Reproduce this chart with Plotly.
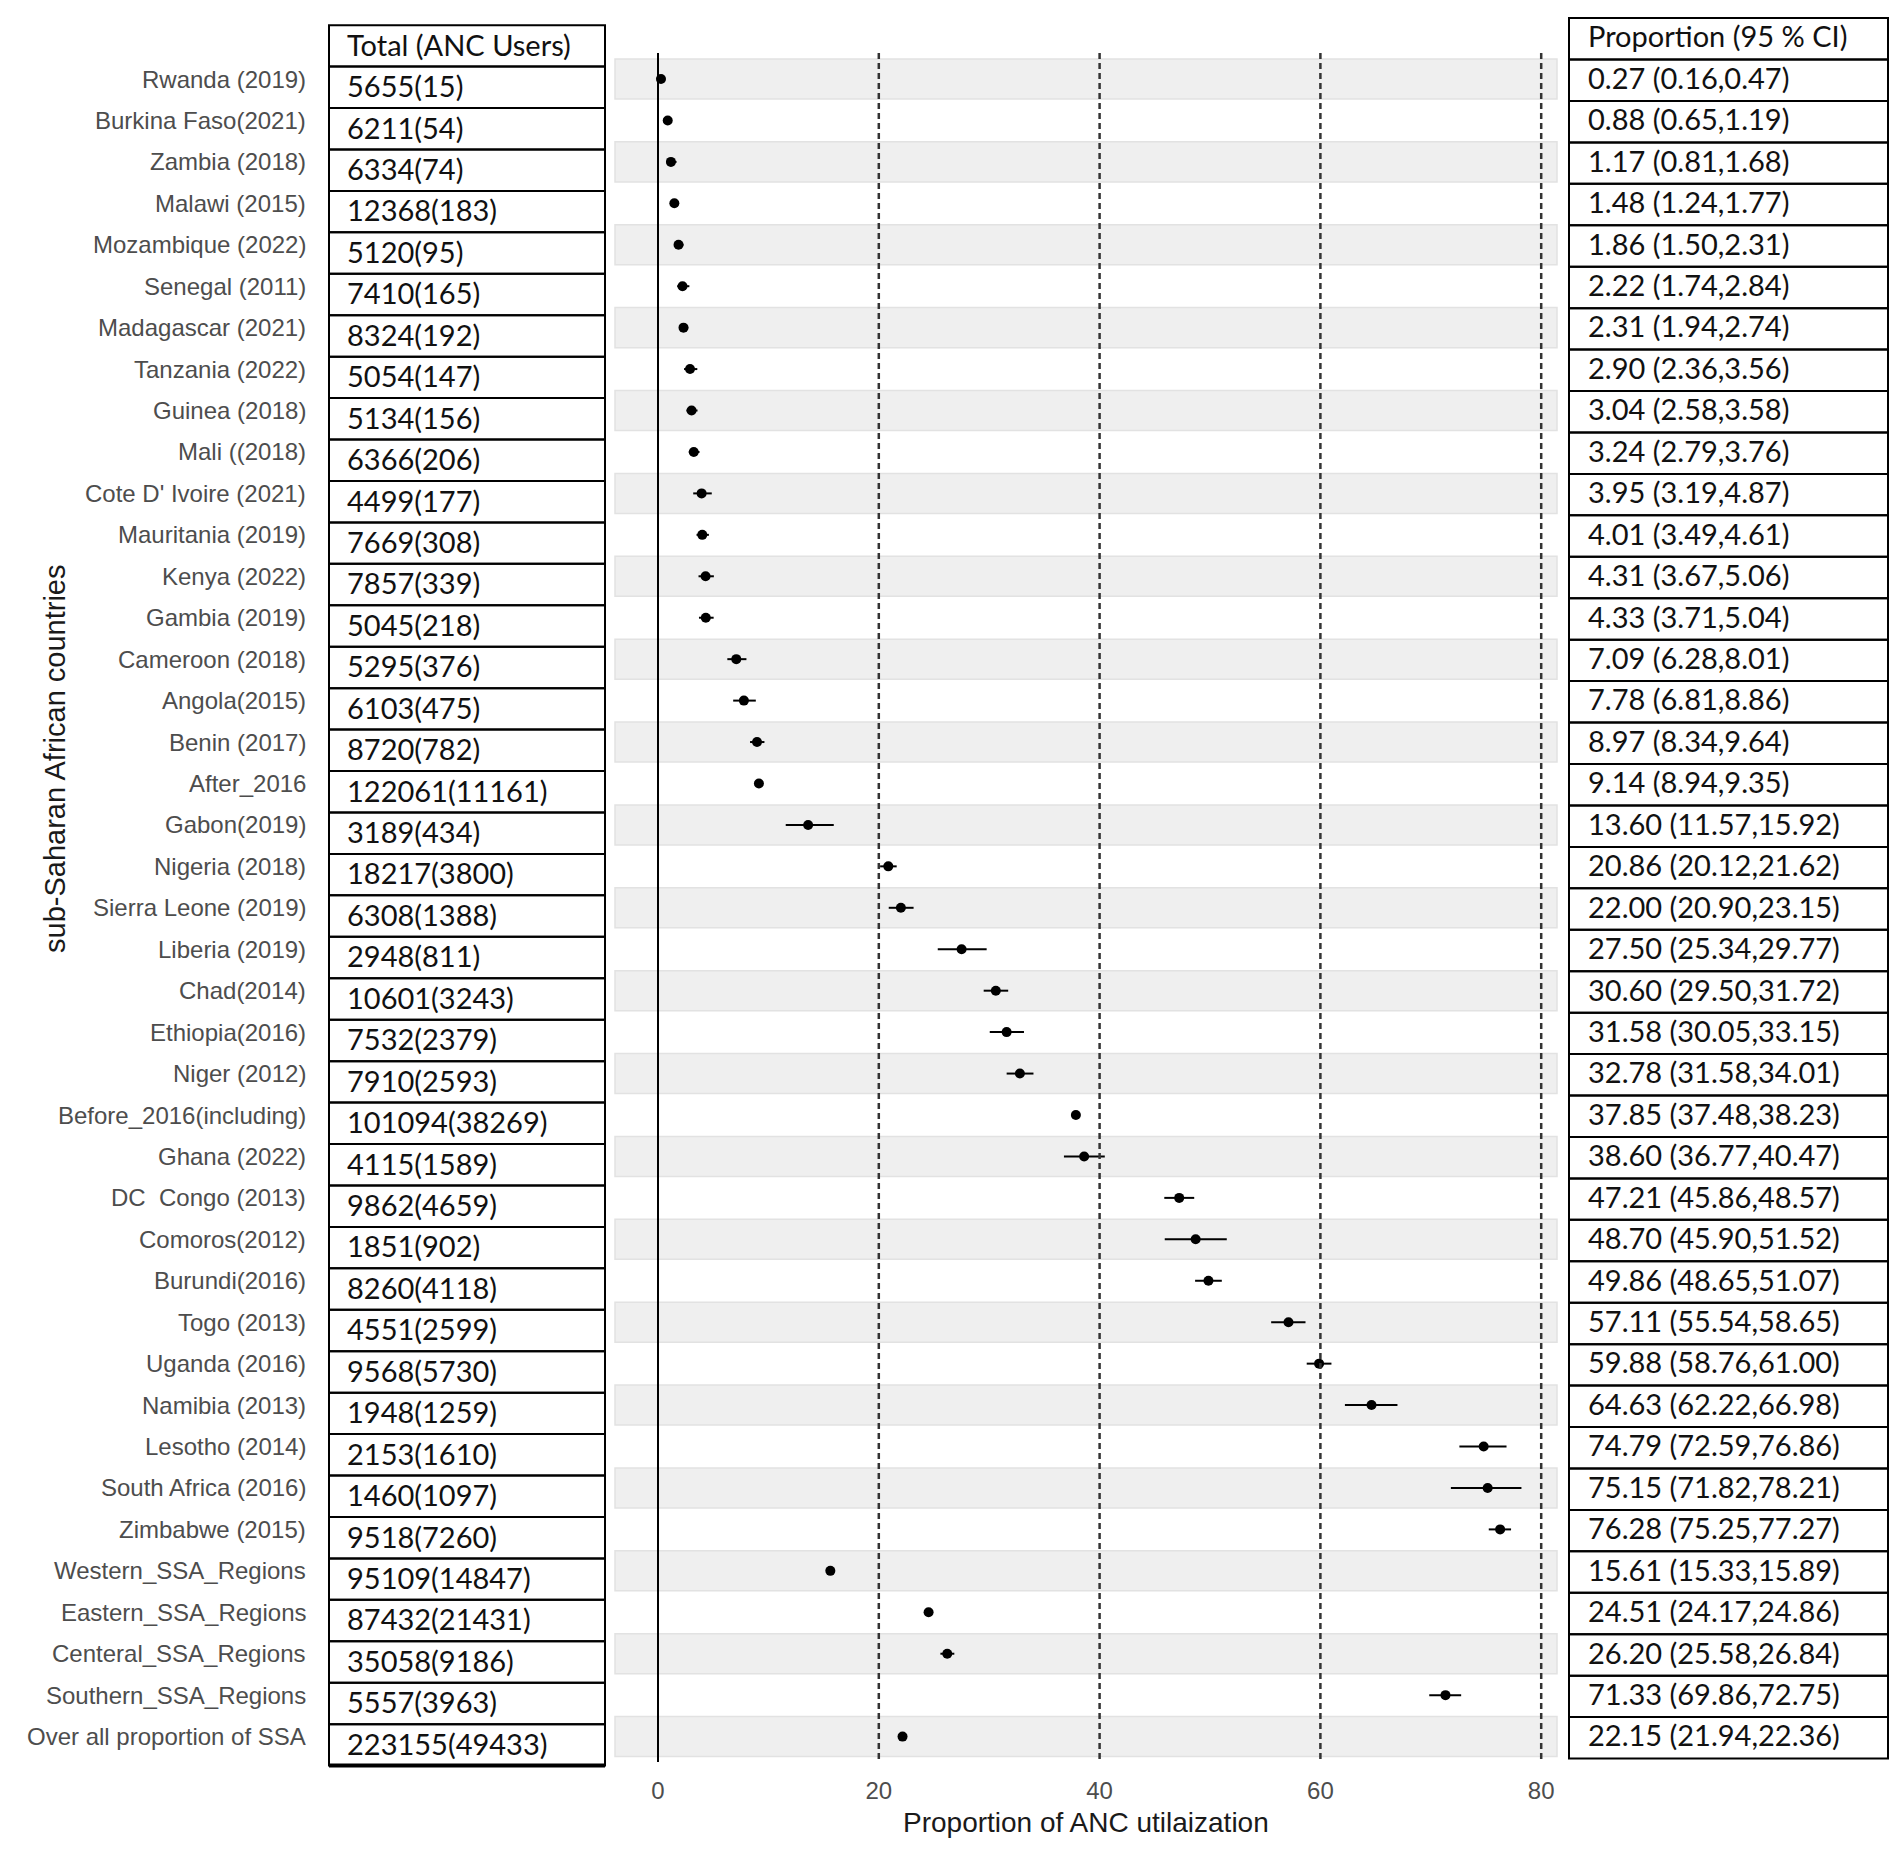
import plotly.graph_objects as go

countries = [
    "Rwanda (2019)", "Burkina Faso(2021)", "Zambia (2018)", "Malawi (2015)",
    "Mozambique (2022)", "Senegal (2011)", "Madagascar (2021)", "Tanzania (2022)",
    "Guinea (2018)", "Mali ((2018)", "Cote D' Ivoire (2021)", "Mauritania (2019)",
    "Kenya (2022)", "Gambia (2019)", "Cameroon (2018)", "Angola(2015)",
    "Benin (2017)", "After_2016", "Gabon(2019)", "Nigeria (2018)",
    "Sierra Leone (2019)", "Liberia (2019)", "Chad(2014)", "Ethiopia(2016)",
    "Niger (2012)", "Before_2016(including)", "Ghana (2022)", "DC  Congo (2013)",
    "Comoros(2012)", "Burundi(2016)", "Togo (2013)", "Uganda (2016)",
    "Namibia (2013)", "Lesotho (2014)", "South Africa (2016)", "Zimbabwe (2015)",
    "Western_SSA_Regions", "Eastern_SSA_Regions", "Centeral_SSA_Regions",
    "Southern_SSA_Regions", "Over all proportion of SSA",
]
totals = [
    5655, 6211, 6334, 12368, 5120, 7410, 8324, 5054, 5134, 6366, 4499, 7669,
    7857, 5045, 5295, 6103, 8720, 122061, 3189, 18217, 6308, 2948, 10601, 7532,
    7910, 101094, 4115, 9862, 1851, 8260, 4551, 9568, 1948, 2153, 1460, 9518,
    95109, 87432, 35058, 5557, 223155,
]
users = [
    15, 54, 74, 183, 95, 165, 192, 147, 156, 206, 177, 308,
    339, 218, 376, 475, 782, 11161, 434, 3800, 1388, 811, 3243, 2379,
    2593, 38269, 1589, 4659, 902, 4118, 2599, 5730, 1259, 1610, 1097, 7260,
    14847, 21431, 9186, 3963, 49433,
]
prop = [
    0.27, 0.88, 1.17, 1.48, 1.86, 2.22, 2.31, 2.90, 3.04, 3.24, 3.95, 4.01,
    4.31, 4.33, 7.09, 7.78, 8.97, 9.14, 13.60, 20.86, 22.00, 27.50, 30.60, 31.58,
    32.78, 37.85, 38.60, 47.21, 48.70, 49.86, 57.11, 59.88, 64.63, 74.79, 75.15, 76.28,
    15.61, 24.51, 26.20, 71.33, 22.15,
]
ci_low = [
    0.16, 0.65, 0.81, 1.24, 1.50, 1.74, 1.94, 2.36, 2.58, 2.79, 3.19, 3.49,
    3.67, 3.71, 6.28, 6.81, 8.34, 8.94, 11.57, 20.12, 20.90, 25.34, 29.50, 30.05,
    31.58, 37.48, 36.77, 45.86, 45.90, 48.65, 55.54, 58.76, 62.22, 72.59, 71.82, 75.25,
    15.33, 24.17, 25.58, 69.86, 21.94,
]
ci_high = [
    0.47, 1.19, 1.68, 1.77, 2.31, 2.84, 2.74, 3.56, 3.58, 3.76, 4.87, 4.61,
    5.06, 5.04, 8.01, 8.86, 9.64, 9.35, 15.92, 21.62, 23.15, 29.77, 31.72, 33.15,
    34.01, 38.23, 40.47, 48.57, 51.52, 51.07, 58.65, 61.00, 66.98, 76.86, 78.21, 77.27,
    15.89, 24.86, 26.84, 72.75, 22.36,
]
x_ticks = [0, 20, 40, 60, 80]

W, H = 1902, 1851
# plot box (pixels)
L, R, T, B = 615, 1557, 10, 1768
row0, pitch = 79, 41.44      # pixel centre of first row, row spacing
x0px, xscale = 658, 11.04    # pixel of x=0, pixels per unit


def px(p):
    return (p - L) / (R - L)


n = len(countries)
rows = list(range(n))
y_range = [(B - row0) / pitch, (T - row0) / pitch]
x_range = [(L - x0px) / xscale, (R - x0px) / xscale]
line_top = (53 - row0) / pitch
line_bot = (1762 - row0) / pitch

fig = go.Figure()
fig.add_trace(go.Scatter(
    x=prop, y=rows, mode="markers",
    marker=dict(color="black", size=10),
    error_x=dict(type="data", symmetric=False,
                 array=[h - p for h, p in zip(ci_high, prop)],
                 arrayminus=[p - l for p, l in zip(prop, ci_low)],
                 color="black", thickness=2, width=0),
    hoverinfo="skip", cliponaxis=False,
))

shapes = []
# alternating stripes
for i in rows:
    if i % 2 == 0:
        shapes.append(dict(type="rect", xref="paper", yref="y", x0=0, x1=1,
                           y0=i - 0.483, y1=i + 0.483, fillcolor="#EFEFEF",
                           line=dict(color="#E2E2E2", width=1.5), layer="below"))
# reference lines
for t in x_ticks[1:]:
    shapes.append(dict(type="line", xref="x", yref="y", x0=t, x1=t,
                       y0=line_top, y1=line_bot,
                       line=dict(color="#333333", width=2.5, dash="6px,4px")))
shapes.append(dict(type="line", xref="x", yref="y", x0=0, x1=0,
                   y0=line_top, y1=line_bot, line=dict(color="black", width=2)))

# left table
lt_off = 0.2
for k in range(-1, n):
    shapes.append(dict(type="rect", xref="paper", yref="y", x0=px(329), x1=px(605),
                       y0=k - 0.5 + lt_off, y1=k + 0.5 + lt_off,
                       line=dict(color="black", width=2)))
shapes.append(dict(type="line", xref="paper", yref="y", x0=px(329), x1=px(605),
                   y0=n - 0.5 + lt_off, y1=n - 0.5 + lt_off,
                   line=dict(color="black", width=4)))
# right table
rt_off = 0.03
for k in range(-1, n):
    shapes.append(dict(type="rect", xref="paper", yref="y", x0=px(1569), x1=px(1888),
                       y0=k - 0.5 + rt_off, y1=k + 0.5 + rt_off,
                       line=dict(color="black", width=2)))

annotations = []
lab_font = dict(family="Liberation Sans, Arial", size=24, color="#4D4D4D")
tab_font = dict(family="Lato", size=29, color="#111111")
for i in rows:
    annotations.append(dict(x=px(308), y=i, xref="paper", yref="y", text=countries[i],
                            xanchor="right", yanchor="middle", showarrow=False, font=lab_font))
    annotations.append(dict(x=px(345), y=i + lt_off - 0.04, xref="paper", yref="y",
                            text=f"{totals[i]}({users[i]})",
                            xanchor="left", yanchor="middle", showarrow=False, font=tab_font))
    annotations.append(dict(x=px(1586), y=i + rt_off - 0.07, xref="paper", yref="y",
                            text=f"{prop[i]:.2f} ({ci_low[i]:.2f},{ci_high[i]:.2f})",
                            xanchor="left", yanchor="middle", showarrow=False, font=tab_font))
annotations.append(dict(x=px(345), y=-1 + lt_off - 0.04, xref="paper", yref="y",
                        text="Total (ANC Users)", xanchor="left", yanchor="middle",
                        showarrow=False, font=tab_font))
annotations.append(dict(x=px(1586), y=-1 + rt_off - 0.07, xref="paper", yref="y",
                        text="Proportion (95 % CI)", xanchor="left", yanchor="middle",
                        showarrow=False, font=tab_font))
annotations.append(dict(x=0.5, y=(B - 1822) / (B - T), xref="paper", yref="paper",
                        text="Proportion of ANC utilaization", showarrow=False,
                        xanchor="center", yanchor="middle",
                        font=dict(family="Liberation Sans, Arial", size=28, color="#1A1A1A")))
annotations.append(dict(x=px(55), y=(B - 759) / (B - T), xref="paper", yref="paper",
                        text="sub-Saharan African countries", textangle=-90, showarrow=False,
                        xanchor="center", yanchor="middle",
                        font=dict(family="Liberation Sans, Arial", size=29, color="#1A1A1A")))

fig.update_layout(
    width=W, height=H,
    margin=dict(l=L, r=W - R, t=T, b=H - B),
    plot_bgcolor="white", paper_bgcolor="white",
    showlegend=False, hovermode=False,
    shapes=shapes, annotations=annotations,
    xaxis=dict(range=x_range, tickvals=x_ticks, showgrid=False, zeroline=False,
               showline=False, ticks="outside", ticklen=1, tickcolor="rgba(0,0,0,0)",
               tickfont=lab_font),
    yaxis=dict(range=y_range, showgrid=False, zeroline=False, showline=False,
               showticklabels=False),
)

fig.write_html("out.html", config={"displayModeBar": False},
               post_script="document.body.style.margin='0';")
